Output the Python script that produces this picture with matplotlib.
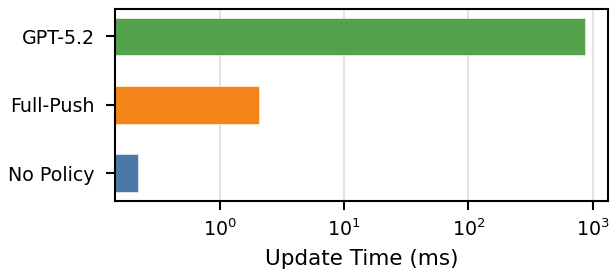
from matplotlib import pyplot as plt

categories = ["No Policy", "Full-Push", "GPT-5.2"]
update_ms = [0.218, 2.07, 860.0]
colors = ["#4c78a8", "#f58518", "#54a24b"]
xticks = [1, 10, 100, 1000]

fig = plt.figure(figsize=(6.12, 2.73), dpi=100)
ax = fig.add_axes([0.188, 0.265, 0.805, 0.702])

ax.barh(range(len(categories)), update_ms, height=0.55, color=colors,
        edgecolor="white", linewidth=0.4, zorder=2)

ax.set_xscale("log")
ax.set_xlim(0.143, 1320)
ax.set_ylim(-0.4, 2.4)
ax.set_xticks(xticks)
ax.xaxis.set_minor_locator(plt.NullLocator())
ax.set_yticks(range(len(categories)))
ax.set_yticklabels(categories)

ax.grid(axis="x", color="#dddddd", lw=1.2, zorder=0)
ax.set_axisbelow(True)

for s in ax.spines.values():
    s.set_linewidth(1.5)
ax.tick_params(axis="both", labelsize=13.7, width=1.5, length=6.5)
ax.tick_params(axis="y", pad=8)
ax.tick_params(axis="x", pad=6)
ax.set_xlabel("Update Time (ms)", fontsize=15.5, labelpad=7)

fig.savefig("out.png", dpi=100)
